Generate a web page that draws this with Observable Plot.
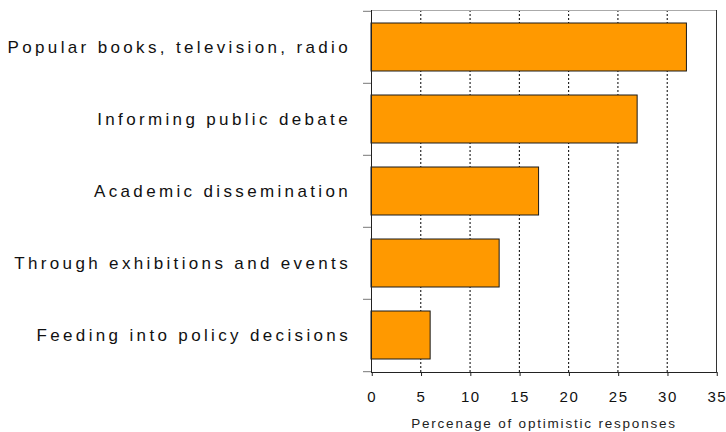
<!DOCTYPE html>
<html>
<head>
<meta charset="utf-8">
<script src="https://cdn.jsdelivr.net/npm/d3@7"></script>
<script src="https://cdn.jsdelivr.net/npm/@observablehq/plot@0.6"></script>
<style>
  html, body { margin: 0; padding: 0; background: #fff; }
  #chart svg { display: block; }
  #chart g[aria-label="y-axis tick label"] text { letter-spacing: 3.35px; }
  #chart g[aria-label="x-axis tick label"] text { letter-spacing: 1.5px; }
  #chart g[aria-label="text"] text { letter-spacing: 1.8px; }
</style>
</head>
<body>
<div id="chart"></div>
<script>
const categories = [
  "Popular books, television, radio",
  "Informing public debate",
  "Academic dissemination",
  "Through exhibitions and events",
  "Feeding into policy decisions"
];
const values = [32, 27, 17, 13, 6];
const xTicks = [0, 5, 10, 15, 20, 25, 30, 35];
const xTitle = "Percenage of optimistic responses";

const data = categories.map((c, i) => ({category: c, value: values[i]}));

const W = 726, H = 432;
const mTop = 10, mBottom = 60, mLeft = 371, mRight = 10;
const step = (H - mTop - mBottom) / categories.length;

const font = "'Liberation Sans', Arial, sans-serif";

const chart = Plot.plot({
  width: W,
  height: H,
  marginTop: mTop,
  marginBottom: mBottom,
  marginLeft: mLeft,
  marginRight: mRight,
  style: {fontFamily: font, color: "#111", background: "#fff"},
  x: {domain: [0, 35], ticks: xTicks},
  y: {domain: categories, paddingInner: 0.33, paddingOuter: 0.165},
  marks: [
    Plot.gridX(xTicks.filter(t => t > 0 && t < 35), {stroke: "#000", strokeOpacity: 1, strokeDasharray: "2,2"}),
    Plot.barX(data, {y: "category", x: "value", fill: "#FF9900", stroke: "#1a1a1a", strokeWidth: 1}),
    Plot.frame({anchor: "top", stroke: "#aaa"}),
    Plot.frame({anchor: "bottom", stroke: "#222"}),
    Plot.frame({anchor: "left", stroke: "#222"}),
    Plot.frame({anchor: "right", stroke: "#333"}),
    Plot.axisX({ticks: xTicks, tickSize: 4, tickPadding: 15, fontSize: 15, label: null, stroke: "#222", dx: 0.75}),
    Plot.axisY({tickSize: 0, tickPadding: 20.5, fontSize: 17, label: null}),
    Plot.axisY({tickSize: 8, text: null, label: null, dy: -step / 2, stroke: "#777"}),
    Plot.axisY({ticks: [categories[categories.length - 1]], tickSize: 8, text: null, label: null, dy: step / 2, stroke: "#777"}),
    Plot.text([xTitle], {frameAnchor: "bottom", dy: 51, fontSize: 13.5, fill: "#222", lineAnchor: "middle",
      text: d => d})
  ]
});
document.getElementById("chart").appendChild(chart);
</script>
</body>
</html>
